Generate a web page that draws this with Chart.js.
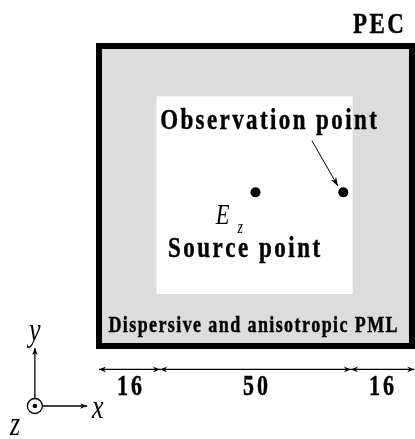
<!DOCTYPE html>
<html>
<head>
<meta charset="utf-8">
<script src="https://cdn.jsdelivr.net/npm/chart.js@4"></script>
<style>
  html, body { margin: 0; padding: 0; background: #fff; }
  canvas { display: block; }
</style>
</head>
<body>
<canvas id="chart" width="415" height="439"></canvas>
<script>
// grid along x, in cells: PML | interior | PML
const spanCells = [16, 50, 16];
const spanLabels = ['16', '50', '16'];
// square domain (cells) and the white interior as it is drawn
const domainCells = 82;
const interiorX = [15, 66.5];
const interiorY = [14.2, 68.3];
// source / observation points (cells)
const sourceCell = [41, 42];
const observCell = [64, 42];
const regionNames = ['PEC', 'Dispersive and anisotropic PML', 'Observation point', 'Source point'];

const edges = spanCells.reduce((acc, n) => acc.concat(acc[acc.length - 1] + n), [0]);

const GRAY = '#dcdcdc';
const SERIF = '"Liberation Serif", "Times New Roman", serif';
const STRETCH = 1.32; // lettering in the figure is tall and narrow

// layout, in cell units
const dimY = -6.4;
const origin = { x: -16.8, y: -16.4 };

function seg(x0, y0, x1, y1) {
  return [{ x: x0, y: y0 }, { x: x1, y: y1 }];
}

function lineSet(data, extra) {
  return Object.assign({
    data,
    borderColor: '#000',
    borderWidth: 1.2,
    pointRadius: 0,
    fill: false,
    tension: 0,
    order: 1,
  }, extra);
}

const D = domainCells;
const datasets = [
  // PML (gray) and interior (white)
  lineSet(seg(0, D, D, D), { fill: { value: 0 }, backgroundColor: GRAY, borderWidth: 0, order: 10 }),
  lineSet(seg(interiorX[0], interiorY[1], interiorX[1], interiorY[1]),
    { fill: { value: interiorY[0] }, backgroundColor: '#fff', borderWidth: 0, order: 9 }),
  // PEC wall
  lineSet([
    { x: D / 2, y: D }, { x: D, y: D }, { x: D, y: 0 }, { x: 0, y: 0 }, { x: 0, y: D }, { x: D / 2, y: D },
  ], { borderWidth: 6, borderJoinStyle: 'miter', order: 8 }),
  // dimension arrows
  ...spanCells.map((n, i) => lineSet(seg(edges[i], dimY, edges[i + 1] + (i === 2 ? 0.6 : 0), dimY), { arrowEnds: 'both' })),
  // pointer to the observation point
  lineSet(seg(55.8, 56.1, 62.6, 43.7), { borderWidth: 1, arrowEnds: 'end', head: [9, 3] }),
  // coordinate axes
  lineSet(seg(origin.x, origin.y + 2.0, origin.x, -0.55), { borderWidth: 1.3, arrowEnds: 'end' }),
  lineSet(seg(origin.x + 1.95, origin.y, -3.1, origin.y), { borderWidth: 1.3, arrowEnds: 'end' }),
  // points
  {
    data: [{ x: sourceCell[0], y: sourceCell[1] }, { x: observCell[0], y: observCell[1] }],
    showLine: false, pointRadius: 5, pointBackgroundColor: '#000', pointBorderWidth: 0, order: 0,
  },
  {
    data: [{ x: origin.x, y: origin.y }],
    showLine: false, pointRadius: 7.5, pointBackgroundColor: '#fff', pointBorderColor: '#000',
    pointBorderWidth: 1.3, order: 0,
  },
  {
    data: [{ x: origin.x, y: origin.y }],
    showLine: false, pointRadius: 2.3, pointBackgroundColor: '#000', pointBorderWidth: 0, order: -1,
  },
];

const texts = [
  { t: regionNames[0], x: 73.2, y: 85.55, size: 23, ls: 2.5 },
  { t: regionNames[2], x: 44.4, y: 59.3, size: 23, ls: 2.4 },
  { t: regionNames[3], x: 38.0, y: 24.3, size: 23, ls: 2.5 },
  { t: regionNames[1], x: 40.35, y: 3.75, size: 18, ls: 1.4 },
  ...spanLabels.map((s, i) => ({ t: s, x: (edges[i] + edges[i + 1]) / 2, y: -13.4, size: 22, ls: 3 })),
  { t: 'E', x: 30.6, y: 33.35, size: 22.5, italic: true, align: 'left' },
  { t: 'z', x: 36.3, y: 30.9, size: 14, italic: true, align: 'left' },
  { t: 'y', x: origin.x, y: 1.37, size: 26, italic: true },
  { t: 'x', x: -1.83, y: -19.7, size: 26, italic: true, align: 'left' },
  { t: 'z', x: -23.3, y: -24.3, size: 26, italic: true, align: 'left' },
];

function drawHead(ctx, x, y, a, len, half) {
  ctx.save();
  ctx.translate(x, y);
  ctx.rotate(a);
  ctx.beginPath();
  ctx.moveTo(0, 0);
  ctx.lineTo(-len, -half);
  ctx.lineTo(-len * 0.7, 0);
  ctx.lineTo(-len, half);
  ctx.closePath();
  ctx.fill();
  ctx.restore();
}

const arrowHeads = {
  id: 'arrowHeads',
  afterDatasetsDraw(chart) {
    const ctx = chart.ctx;
    ctx.save();
    ctx.fillStyle = '#000';
    chart.data.datasets.forEach((ds, i) => {
      if (!ds.arrowEnds) return;
      const pts = chart.getDatasetMeta(i).data;
      const p0 = pts[0], p1 = pts[pts.length - 1];
      const a = Math.atan2(p1.y - p0.y, p1.x - p0.x);
      const [len, half] = ds.head || [7, 2.8];
      drawHead(ctx, p1.x, p1.y, a, len, half);
      if (ds.arrowEnds === 'both') drawHead(ctx, p0.x, p0.y, a + Math.PI, len, half);
    });
    ctx.restore();
  },
};

const lettering = {
  id: 'lettering',
  afterDraw(chart) {
    const ctx = chart.ctx;
    const sx = chart.scales.x, sy = chart.scales.y;
    ctx.save();
    ctx.fillStyle = '#000';
    ctx.strokeStyle = '#000';
    ctx.lineWidth = 0.35;
    ctx.textBaseline = 'alphabetic';
    ctx.textAlign = 'left';
    for (const item of texts) {
      ctx.font = (item.italic ? 'italic ' : 'bold ') + item.size + 'px ' + SERIF;
      const ls = item.ls || 0;
      const chars = [...item.t];
      const widths = chars.map(c => ctx.measureText(c).width);
      const total = widths.reduce((a, b) => a + b, 0) + ls * (chars.length - 1);
      let x = sx.getPixelForValue(item.x);
      if ((item.align || 'center') === 'center') x -= total / 2;
      ctx.save();
      ctx.translate(x, sy.getPixelForValue(item.y));
      ctx.scale(1, STRETCH);
      let cx = 0;
      chars.forEach((c, k) => {
        ctx.fillText(c, cx, 0);
        if (!item.italic) ctx.strokeText(c, cx, 0); // a touch heavier, like the scanned figure
        cx += widths[k] + ls;
      });
      ctx.restore();
    }
    ctx.restore();
  },
};

new Chart(document.getElementById('chart'), {
  type: 'line',
  data: { datasets },
  options: {
    responsive: false,
    devicePixelRatio: 1,
    animation: false,
    layout: { padding: 0, autoPadding: false },
    plugins: { legend: { display: false }, tooltip: { enabled: false } },
    scales: {
      x: { type: 'linear', min: -25.94, max: 82.79, display: false },
      y: { type: 'linear', min: -25.42, max: 94.58, display: false },
    },
  },
  plugins: [arrowHeads, lettering],
});
</script>
</body>
</html>
